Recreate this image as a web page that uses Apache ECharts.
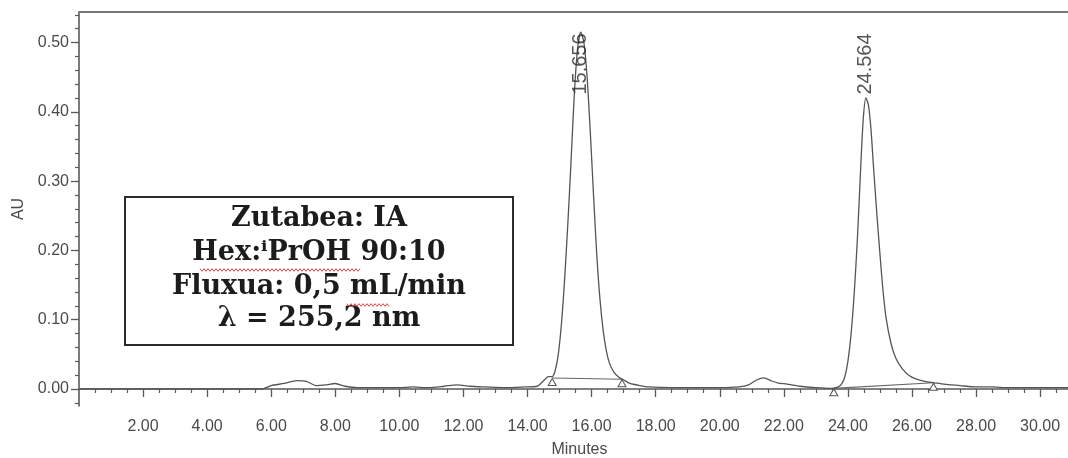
<!DOCTYPE html>
<html><head><meta charset="utf-8">
<script src="https://cdn.jsdelivr.net/npm/echarts@6/dist/echarts.min.js"></script>
<style>html,body{margin:0;padding:0;background:#fff}#c{width:1068px;height:458px}</style>
</head><body><div id="c"></div>
<script>
// ---- data ----
const timeMin = [0, 1, 2, 3, 4, 5, 5.7, 6.0, 6.4, 6.8, 7.1, 7.4, 7.7, 8.0, 8.3, 8.7, 9.3, 10.0, 10.4, 10.9, 11.4, 11.8, 12.2, 12.7, 13.3, 13.9, 14.3, 14.5, 14.65, 14.77, 14.86, 14.96, 15.06, 15.16, 15.26, 15.36, 15.46, 15.56, 15.66, 15.76, 15.86, 15.96, 16.06, 16.16, 16.26, 16.36, 16.46, 16.56, 16.7, 16.85, 17.0, 17.2, 17.5, 17.8, 18.5, 19.3, 20.0, 20.6, 20.9, 21.15, 21.38, 21.6, 21.8, 22.1, 22.5, 23.0, 23.5, 23.7, 23.8, 23.9, 24.0, 24.1, 24.2, 24.3, 24.4, 24.48, 24.56, 24.64, 24.72, 24.8, 24.9, 25.0, 25.1, 25.2, 25.35, 25.5, 25.7, 25.9, 26.1, 26.4, 26.7, 27.0, 27.5, 28.0, 28.5, 29.0, 30.0, 30.87];
const signalAU = [0, 0, 0, 0, 0, 0, 0, 0.005, 0.008, 0.012, 0.011, 0.005, 0.006, 0.008, 0.004, 0.002, 0.002, 0.002, 0.003, 0.002, 0.004, 0.006, 0.004, 0.003, 0.002, 0.003, 0.004, 0.012, 0.018, 0.018, 0.026, 0.05, 0.095, 0.16, 0.24, 0.33, 0.425, 0.49, 0.515, 0.50, 0.45, 0.37, 0.28, 0.195, 0.13, 0.085, 0.055, 0.037, 0.024, 0.017, 0.013, 0.008, 0.005, 0.003, 0.002, 0.002, 0.002, 0.003, 0.006, 0.013, 0.016, 0.012, 0.009, 0.007, 0.004, 0.002, 0.001, 0.003, 0.007, 0.017, 0.04, 0.08, 0.14, 0.22, 0.32, 0.39, 0.42, 0.41, 0.375, 0.32, 0.255, 0.195, 0.14, 0.10, 0.065, 0.044, 0.029, 0.02, 0.015, 0.011, 0.009, 0.007, 0.005, 0.003, 0.003, 0.002, 0.002, 0.002];
const peakRT = [15.656, 24.564];
const peakLabels = ['15.656', '24.564'];
const baseline1Time = [14.77, 16.95];
const baseline1AU = [0.016, 0.014];
const baseline2Time = [23.56, 26.67];
const baseline2AU = [0.001, 0.009];
const xTickValues = [2, 4, 6, 8, 10, 12, 14, 16, 18, 20, 22, 24, 26, 28, 30];
const xMinorTicks = [0.5, 1, 1.5, 2.5, 3, 3.5, 4.5, 5, 5.5, 6.5, 7, 7.5, 8.5, 9, 9.5, 10.5, 11, 11.5, 12.5, 13, 13.5, 14.5, 15, 15.5, 16.5, 17, 17.5, 18.5, 19, 19.5, 20.5, 21, 21.5, 22.5, 23, 23.5, 24.5, 25, 25.5, 26.5, 27, 27.5, 28.5, 29, 29.5, 30.5];
const yTickValues = [0, 0.1, 0.2, 0.3, 0.4, 0.5];
const yTickLabels = ['0.00', '0.10', '0.20', '0.30', '0.40', '0.50'];
const yMinorTicks = [-0.02, 0.02, 0.04, 0.06, 0.08, 0.12, 0.14, 0.16, 0.18, 0.22, 0.24, 0.26, 0.28, 0.32, 0.34, 0.36, 0.38, 0.42, 0.44, 0.46, 0.48, 0.52, 0.54];
const infoLines = ['Zutabea: IA', 'Hex:\u2071PrOH 90:10', 'Fluxua: 0,5 mL/min', '\u03bb = 255,2 nm'];
const xAxisTitle = 'Minutes';
const yAxisTitle = 'AU';

// ---- chart ----
const X_MIN = 0, X_MAX = 30.87, Y_MIN = -0.0245, Y_MAX = 0.544;
const LABEL_Y = 0.469;
const axisCol = '#5a5a5a';
const labelCol = '#4a4a4a';
const font = '"Liberation Sans", Arial, sans-serif';

const chart = echarts.init(document.getElementById('c'), null, {renderer: 'canvas'});

function squiggle(x0, x1, y) {
  const pts = [];
  let k = 0;
  for (let x = x0; x <= x1; x += 2) { pts.push([x, y + (k % 2 ? 1.3 : -1.3)]); k++; }
  return {type: 'polyline', shape: {points: pts}, style: {stroke: '#e04848', lineWidth: 1, fill: null}, z: 100};
}

const boxX = 125, boxY = 197, boxW = 388, boxH = 148;
const lineCenters = [219, 253, 287, 319];
const graphics = [
  {type: 'rect', shape: {x: boxX, y: boxY, width: boxW, height: boxH}, style: {fill: '#fff', stroke: '#2a2a2a', lineWidth: 2}, z: 90}
];
infoLines.forEach((t, i) => graphics.push({
  type: 'text', x: boxX + boxW / 2, y: lineCenters[i], z: 95,
  style: {text: t, align: 'center', verticalAlign: 'middle', font: 'bold 27px "DejaVu Serif", serif', fill: '#1c1c1c'}
}));
graphics.push(squiggle(200, 360, 270));
graphics.push(squiggle(347, 390, 305));

const option = {
  animation: false,
  backgroundColor: '#fff',
  grid: {left: 79, right: 0, top: 12, bottom: 52, outerBoundsMode: 'none', containLabel: false},
  xAxis: [
    {
      type: 'value', min: X_MIN, max: X_MAX, position: 'bottom',
      name: xAxisTitle, nameLocation: 'middle', nameGap: 36,
      nameTextStyle: {fontSize: 16, color: labelCol, fontFamily: font, padding: [0, 0, 0, 12]},
      axisLine: {show: true, lineStyle: {color: axisCol, width: 1.6}},
      axisTick: {show: true, customValues: xTickValues, length: 8, lineStyle: {color: axisCol, width: 1.3}},
      axisLabel: {show: true, customValues: xTickValues, margin: 13, fontSize: 16, color: labelCol, fontFamily: font, formatter: v => v.toFixed(2)},
      splitLine: {show: false}
    },
    {
      type: 'value', min: X_MIN, max: X_MAX, position: 'bottom',
      axisLine: {show: false},
      axisTick: {show: true, customValues: xMinorTicks, length: 4, lineStyle: {color: axisCol, width: 1.2}},
      axisLabel: {show: false}, splitLine: {show: false}
    },
    {
      type: 'value', min: X_MIN, max: X_MAX, position: 'top',
      axisLine: {show: true, lineStyle: {color: '#777', width: 2}},
      axisTick: {show: false}, axisLabel: {show: false}, splitLine: {show: false}
    }
  ],
  yAxis: [
    {
      type: 'value', min: Y_MIN, max: Y_MAX, position: 'left',
      name: yAxisTitle, nameLocation: 'middle', nameGap: 50, nameRotate: 90,
      nameTextStyle: {fontSize: 16, color: labelCol, fontFamily: font},
      axisLine: {show: true, lineStyle: {color: axisCol, width: 1.6}},
      axisTick: {show: true, customValues: yTickValues, length: 8, lineStyle: {color: axisCol, width: 1.3}},
      axisLabel: {show: true, customValues: yTickValues, margin: 10, fontSize: 16, color: labelCol, fontFamily: font,
        formatter: v => { const i = yTickValues.findIndex(t => Math.abs(t - v) < 1e-9); return i >= 0 ? yTickLabels[i] : ''; }},
      splitLine: {show: false}
    },
    {
      type: 'value', min: Y_MIN, max: Y_MAX, position: 'left',
      axisLine: {show: false},
      axisTick: {show: true, customValues: yMinorTicks, length: 4, lineStyle: {color: axisCol, width: 1.2}},
      axisLabel: {show: false}, splitLine: {show: false}
    }
  ],
  series: [
    {
      type: 'line', xAxisIndex: 0, yAxisIndex: 0,
      data: timeMin.map((t, i) => [t, signalAU[i]]),
      showSymbol: false, smooth: 0.25,
      lineStyle: {color: '#555', width: 1.3}, z: 3
    },
    {
      type: 'line', xAxisIndex: 0, yAxisIndex: 0,
      data: baseline1Time.map((t, i) => [t, baseline1AU[i]]),
      symbol: 'triangle', symbolSize: [8, 7], symbolOffset: [0, 4], showSymbol: true,
      itemStyle: {color: '#fff', borderColor: '#555', borderWidth: 1},
      lineStyle: {color: '#666', width: 1.1}, z: 2
    },
    {
      type: 'line', xAxisIndex: 0, yAxisIndex: 0,
      data: baseline2Time.map((t, i) => [t, baseline2AU[i]]),
      symbol: 'triangle', symbolSize: [8, 7], symbolOffset: [0, 4], showSymbol: true,
      itemStyle: {color: '#fff', borderColor: '#555', borderWidth: 1},
      lineStyle: {color: '#666', width: 1.1}, z: 2
    },
    {
      type: 'scatter', xAxisIndex: 0, yAxisIndex: 0,
      data: peakRT.map(t => [t, LABEL_Y]),
      symbolSize: 0, z: 5,
      label: {show: true, position: 'inside', rotate: 90, fontSize: 20, color: '#2a2a2a', fontFamily: font,
        formatter: p => peakLabels[p.dataIndex]}
    }
  ],
  graphic: graphics
};
chart.setOption(option);
</script></body></html>
